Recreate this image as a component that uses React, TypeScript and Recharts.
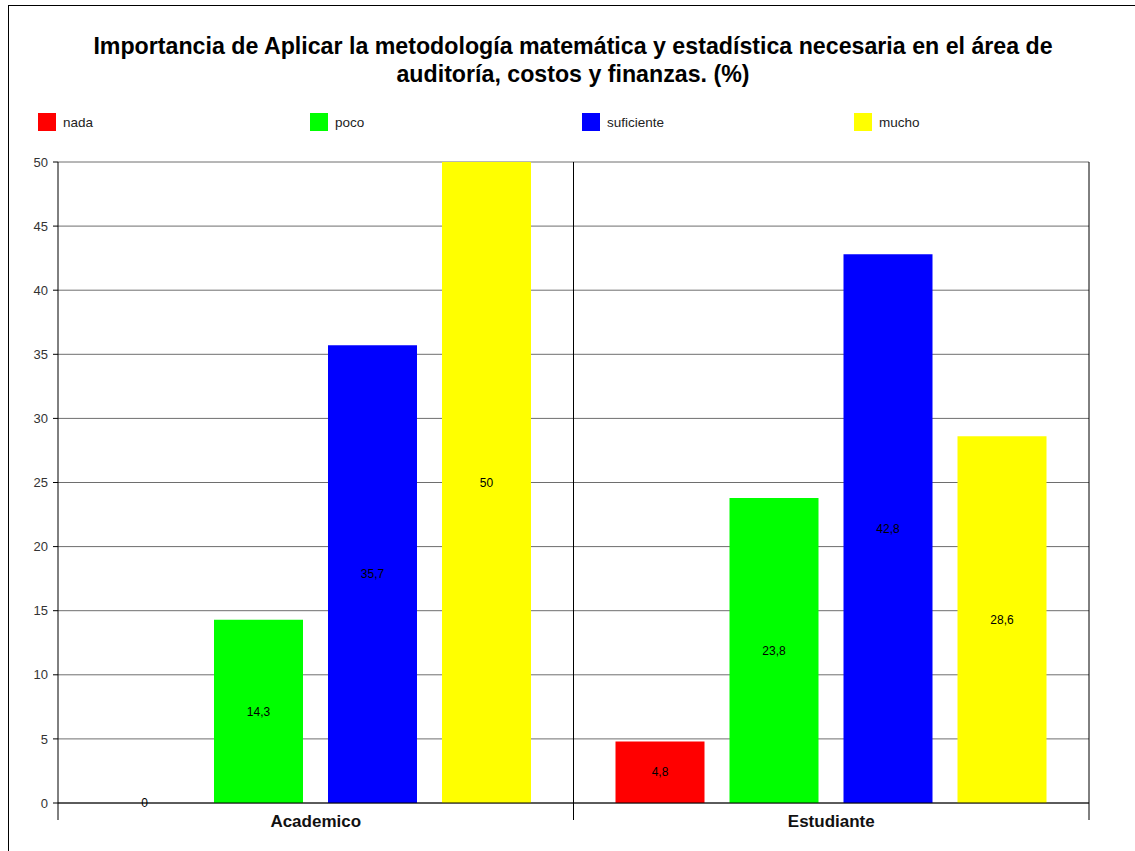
import React from "react";
import {
  BarChart,
  Bar,
  XAxis,
  YAxis,
  CartesianGrid,
  Legend,
  LabelList,
} from "recharts";

const grupos = ["Academico", "Estudiante"];
const series = ["nada", "poco", "suficiente", "mucho"];
const nada = [0, 4.8];
const poco = [14.3, 23.8];
const suficiente = [35.7, 42.8];
const mucho = [50, 28.6];
const yTicks = [0, 5, 10, 15, 20, 25, 30, 35, 40, 45, 50];

const data = grupos.map((grupo, i) => ({
  grupo,
  nada: nada[i],
  poco: poco[i],
  suficiente: suficiente[i],
  mucho: mucho[i],
}));

const W = 1135;
const H = 851;
const MARGIN = { top: 162, right: 6, bottom: 18, left: 8 };
const LEFT_AXIS_W = 50;
const RIGHT_AXIS_W = 40;
const X_AXIS_H = 30;
const PLOT_W = W - MARGIN.left - MARGIN.right - LEFT_AXIS_W - RIGHT_AXIS_W;
const BAND = PLOT_W / grupos.length;

const FONT = '"Liberation Sans", Arial, sans-serif';
const fmt = (v: any) => String(v).replace(".", ",");
// a zero value still gets a (hairline) bar so its label is drawn on the axis
const zeroSize = (v: any) => (v === 0 ? 0.01 : 0);

// category label plus the boundary tick marks hanging below the axis
const GroupTick = (props: any) => {
  const { x, y, payload, index } = props;
  const left = x - BAND / 2;
  const right = x + BAND / 2;
  return (
    <g>
      <line x1={left} x2={left} y1={y} y2={y + 17} stroke="#000" />
      {index === grupos.length - 1 && (
        <line x1={right} x2={right} y1={y} y2={y + 17} stroke="#000" />
      )}
      <text
        x={x}
        y={y + 24}
        textAnchor="middle"
        fontFamily={FONT}
        fontWeight="bold"
        fontSize={17}
        fill="#111"
      >
        {payload.value}
      </text>
    </g>
  );
};

const renderLegend = (props: any) => {
  const items = [...(props.payload || [])].sort(
    (a: any, b: any) => series.indexOf(a.value) - series.indexOf(b.value)
  );
  return (
    <div style={{ display: "flex", paddingLeft: 38 }}>
      {items.map((entry: any) => (
        <div
          key={entry.value}
          style={{ width: 272, display: "flex", alignItems: "center" }}
        >
          <span
            style={{
              width: 18,
              height: 18,
              background: entry.color,
              marginRight: 7,
              display: "inline-block",
            }}
          />
          <span style={{ fontFamily: FONT, fontSize: 13.5, color: "#222" }}>
            {entry.value}
          </span>
        </div>
      ))}
    </div>
  );
};

export default function App() {
  return (
    <div
      style={{
        position: "relative",
        width: W,
        height: H,
        overflow: "hidden",
        background: "#fff",
      }}
    >
      <style>{"body{margin:0}"}</style>
      <div
        style={{
          position: "absolute",
          left: 8,
          top: 5,
          width: W,
          height: H,
          border: "1px solid #000",
        }}
      />
      <div
        style={{
          position: "absolute",
          left: 8,
          top: 32,
          width: 1130,
          textAlign: "center",
          fontFamily: FONT,
          fontWeight: "bold",
          fontSize: 23.2,
          lineHeight: "28px",
          color: "#000",
        }}
      >
        Importancia de Aplicar la metodología matemática y estadística
        necesaria en el área de
        <br />
        auditoría, costos y finanzas. (%)
      </div>
      <div style={{ position: "absolute", left: 0, top: 0 }}>
        <BarChart
          width={W}
          height={H}
          data={data}
          margin={MARGIN}
          barSize={89}
          barGap={25}
        >
          <CartesianGrid yAxisId="l" vertical={false} stroke="#6e6e6e" />
          <CartesianGrid
            yAxisId="l"
            horizontal={false}
            stroke="#000"
            verticalCoordinatesGenerator={({ offset }: any) => [
              offset.left + offset.width / 2,
            ]}
          />
          <XAxis
            dataKey="grupo"
            height={X_AXIS_H}
            axisLine={{ stroke: "#000" }}
            tickLine={false}
            tickSize={0}
            tickMargin={0}
            tick={<GroupTick />}
            interval={0}
          />
          <YAxis
            yAxisId="l"
            width={LEFT_AXIS_W}
            domain={[0, 50]}
            ticks={yTicks}
            interval={0}
            tickSize={5}
            tickMargin={5}
            axisLine={{ stroke: "#000" }}
            tickLine={{ stroke: "#000" }}
            tick={{ fill: "#333", fontSize: 13, fontFamily: FONT }}
          />
          <YAxis
            yAxisId="r"
            orientation="right"
            width={RIGHT_AXIS_W}
            domain={[0, 50]}
            ticks={yTicks}
            interval={0}
            tickSize={5}
            tickMargin={5}
            axisLine={{ stroke: "#000" }}
            tickLine={{ stroke: "#000" }}
            tick={{ fill: "#333", fontSize: 13, fontFamily: FONT }}
          />
          <Legend
            content={renderLegend}
            layout="horizontal"
            verticalAlign="middle"
            align="center"
            wrapperStyle={{ top: 113, left: 0, width: W }}
          />
          <Bar yAxisId="l" dataKey="nada" name="nada" fill="#FF0000" minPointSize={zeroSize} isAnimationActive={false}>
            <LabelList dataKey="nada" position="center" formatter={fmt} fill="#000" fontSize={12} fontFamily={FONT} />
          </Bar>
          <Bar yAxisId="l" dataKey="poco" name="poco" fill="#00FF00" isAnimationActive={false}>
            <LabelList dataKey="poco" position="center" formatter={fmt} fill="#000" fontSize={12} fontFamily={FONT} />
          </Bar>
          <Bar yAxisId="l" dataKey="suficiente" name="suficiente" fill="#0000FF" isAnimationActive={false}>
            <LabelList dataKey="suficiente" position="center" formatter={fmt} fill="#000" fontSize={12} fontFamily={FONT} />
          </Bar>
          <Bar yAxisId="l" dataKey="mucho" name="mucho" fill="#FFFF00" isAnimationActive={false}>
            <LabelList dataKey="mucho" position="center" formatter={fmt} fill="#000" fontSize={12} fontFamily={FONT} />
          </Bar>
        </BarChart>
      </div>
    </div>
  );
}
